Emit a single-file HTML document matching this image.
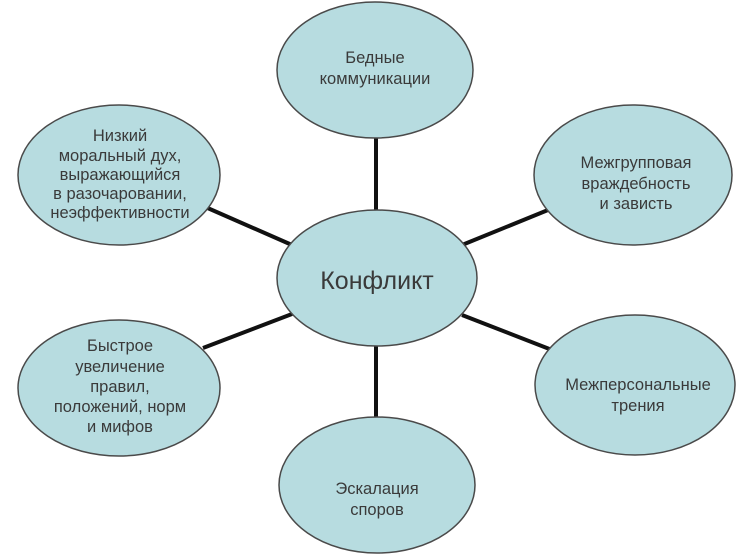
<!DOCTYPE html>
<html><head><meta charset="utf-8"><style>
html,body{margin:0;padding:0;background:#fff;}
svg{display:block;}
text{font-family:"Liberation Sans",sans-serif;fill:#3a3a3a;text-anchor:middle;}
</style></head><body>
<svg width="745" height="554" viewBox="0 0 745 554" xmlns="http://www.w3.org/2000/svg">
<g stroke="#111" stroke-width="4">
<line x1="376" y1="136" x2="376" y2="212"/>
<line x1="376" y1="343" x2="376" y2="418"/>
<line x1="203" y1="206" x2="292" y2="245"/>
<line x1="203" y1="348" x2="292" y2="314"/>
<line x1="548" y1="210" x2="462" y2="245"/>
<line x1="462" y1="315" x2="552" y2="350"/>
</g>
<g fill="#b7dce0" stroke="#4a4a4a" stroke-width="1.5">
<ellipse cx="375" cy="70" rx="98" ry="68"/>
<ellipse cx="377" cy="278" rx="100" ry="68"/>
<ellipse cx="633" cy="175" rx="99" ry="70"/>
<ellipse cx="119" cy="175" rx="101" ry="70"/>
<ellipse cx="119" cy="388" rx="101" ry="68"/>
<ellipse cx="635" cy="385" rx="100" ry="70"/>
<ellipse cx="377" cy="485" rx="98" ry="68"/>
</g>
<g font-size="16.5">
<text x="375" y="63">Бедные</text>
<text x="375" y="84">коммуникации</text>
<text x="636" y="168">Межгрупповая</text>
<text x="636" y="189">враждебность</text>
<text x="636" y="209">и зависть</text>
<text x="120" y="141">Низкий</text>
<text x="120" y="161">моральный дух,</text>
<text x="120" y="180">выражающийся</text>
<text x="120" y="199">в разочаровании,</text>
<text x="120" y="218">неэффективности</text>
<text x="120" y="351">Быстрое</text>
<text x="120" y="372">увеличение</text>
<text x="120" y="392">правил,</text>
<text x="120" y="412">положений, норм</text>
<text x="120" y="432">и мифов</text>
<text x="638" y="390">Межперсональные</text>
<text x="638" y="411">трения</text>
<text x="377" y="494">Эскалация</text>
<text x="377" y="515">споров</text>
</g>
<text x="377" y="289" font-size="25">Конфликт</text>
</svg>
</body></html>
